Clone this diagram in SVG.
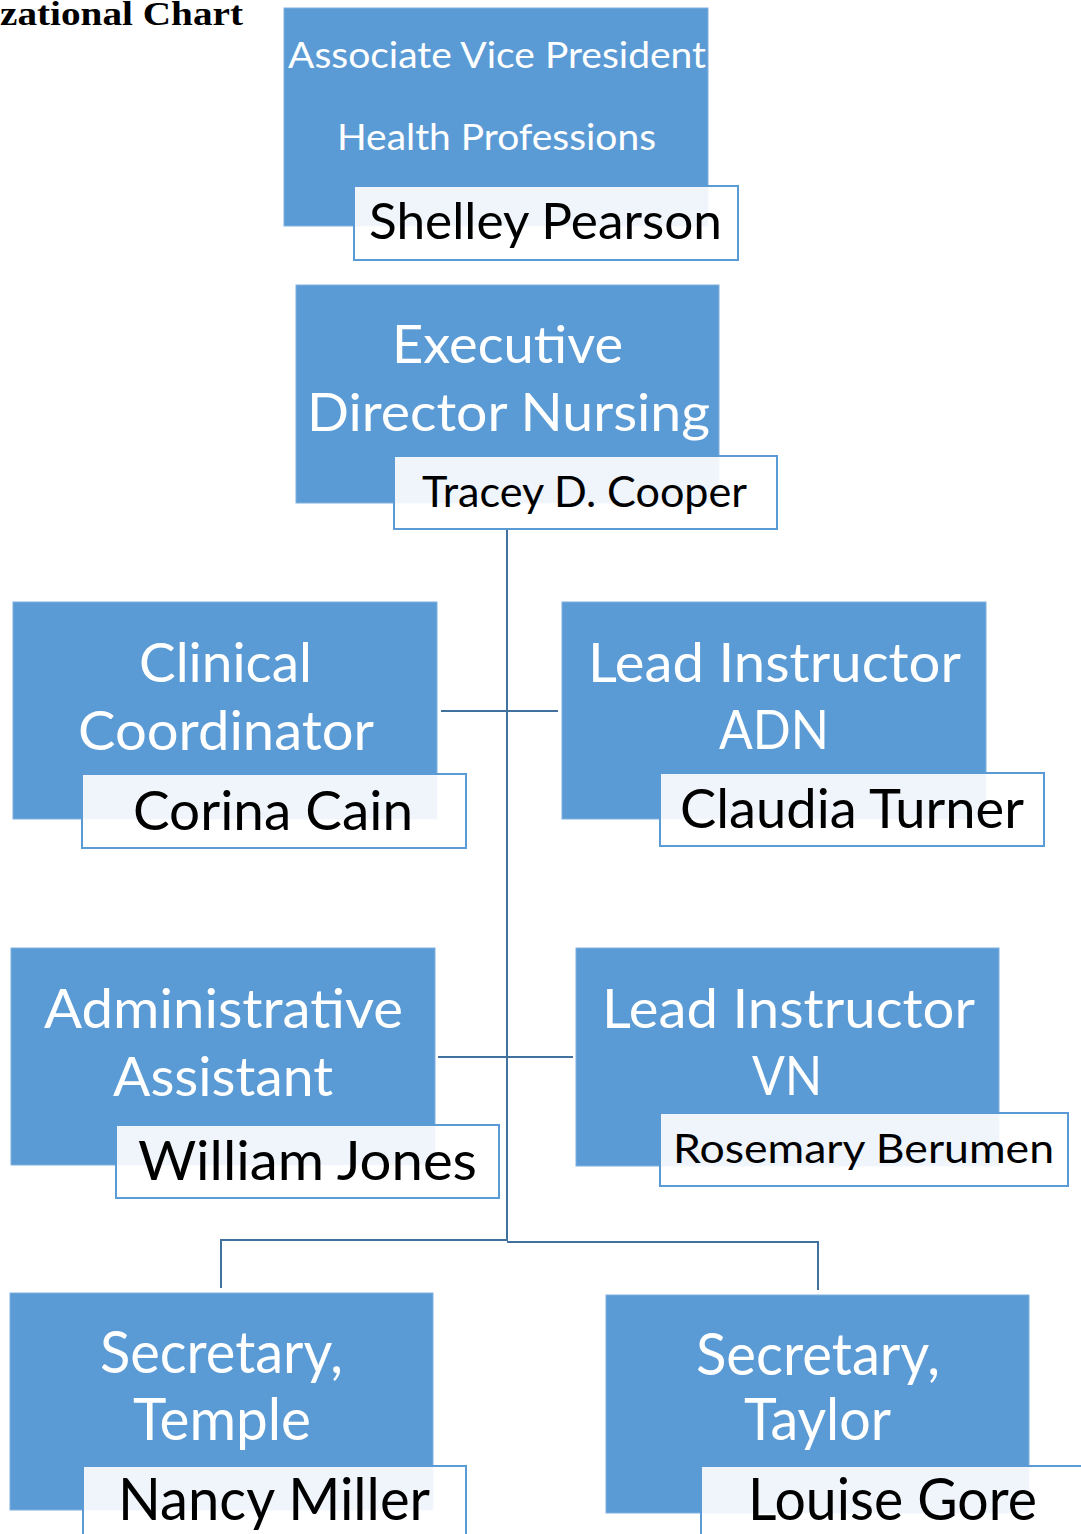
<svg xmlns="http://www.w3.org/2000/svg" width="1081" height="1534" viewBox="0 0 1081 1534">
<style>
.box{fill:#5b9bd5;stroke:#7fb0df;stroke-width:1}
.name{fill:#ffffff;fill-opacity:0.9;stroke:#5b9bd5;stroke-width:2}
.t{font-family:Lato,"Open Sans","Liberation Sans",sans-serif;fill:#ffffff;text-anchor:start}
.n{font-family:Lato,"Open Sans","Liberation Sans",sans-serif;fill:#000000;text-anchor:start}
.c{fill:none;stroke:#41719c;stroke-width:2}
.title{font-family:"Liberation Serif","DejaVu Serif",serif;font-weight:bold;fill:#000}
</style>
<rect width="1081" height="1534" fill="#ffffff"/>
<text class="title" x="0" y="25" font-size="33" textLength="243" lengthAdjust="spacingAndGlyphs">zational Chart</text>

<g id="connectors">
  <path class="c" d="M507,529 V1241"/>
  <path class="c" d="M441,711 H558"/>
  <path class="c" d="M438,1057 H573"/>
  <path class="c" d="M221,1288 V1240 H507"/>
  <path class="c" d="M507,1242 H818 V1290"/>
</g>

<g id="avp">
  <rect class="box" x="284" y="8" width="424" height="218"/>
  <text class="t" x="288" y="68" font-size="36" textLength="418" lengthAdjust="spacingAndGlyphs">Associate Vice President</text>
  <text class="t" x="337" y="150" font-size="36" textLength="319" lengthAdjust="spacingAndGlyphs">Health Professions</text>
  <rect class="name" x="354" y="186" width="384" height="74"/>
  <text class="n" x="369" y="239" font-size="51" textLength="353" lengthAdjust="spacingAndGlyphs">Shelley Pearson</text>
</g>

<g id="exec">
  <rect class="box" x="296" y="285" width="423" height="218"/>
  <text class="t" x="392" y="363" font-size="53" textLength="231" lengthAdjust="spacingAndGlyphs">Executive</text>
  <text class="t" x="307" y="431" font-size="53" textLength="403" lengthAdjust="spacingAndGlyphs">Director Nursing</text>
  <rect class="name" x="394" y="456" width="383" height="73"/>
  <text class="n" x="422" y="507" font-size="43" textLength="325" lengthAdjust="spacingAndGlyphs">Tracey D. Cooper</text>
</g>

<g id="clinical">
  <rect class="box" x="13" y="602" width="424" height="217"/>
  <text class="t" x="139" y="682" font-size="54" textLength="173" lengthAdjust="spacingAndGlyphs">Clinical</text>
  <text class="t" x="78" y="750" font-size="54" textLength="296" lengthAdjust="spacingAndGlyphs">Coordinator</text>
  <rect class="name" x="82" y="774" width="384" height="74"/>
  <text class="n" x="133" y="830" font-size="54" textLength="280" lengthAdjust="spacingAndGlyphs">Corina Cain</text>
</g>

<g id="adn">
  <rect class="box" x="562" y="602" width="424" height="217"/>
  <text class="t" x="588" y="682" font-size="54" textLength="373" lengthAdjust="spacingAndGlyphs">Lead Instructor</text>
  <text class="t" x="719" y="749" font-size="54" textLength="110" lengthAdjust="spacingAndGlyphs">ADN</text>
  <rect class="name" x="660" y="773" width="384" height="73"/>
  <text class="n" x="680" y="828" font-size="54" textLength="344" lengthAdjust="spacingAndGlyphs">Claudia Turner</text>
</g>

<g id="admin">
  <rect class="box" x="11" y="948" width="424" height="217"/>
  <text class="t" x="44" y="1028" font-size="54" textLength="359" lengthAdjust="spacingAndGlyphs">Administrative</text>
  <text class="t" x="113" y="1096" font-size="54" textLength="220" lengthAdjust="spacingAndGlyphs">Assistant</text>
  <rect class="name" x="116" y="1125" width="383" height="73"/>
  <text class="n" x="138" y="1180" font-size="54" textLength="339" lengthAdjust="spacingAndGlyphs">William Jones</text>
</g>

<g id="vn">
  <rect class="box" x="576" y="948" width="423" height="218"/>
  <text class="t" x="602" y="1028" font-size="54" textLength="373" lengthAdjust="spacingAndGlyphs">Lead Instructor</text>
  <text class="t" x="752" y="1095" font-size="54" textLength="70" lengthAdjust="spacingAndGlyphs">VN</text>
  <rect class="name" x="660" y="1113" width="408" height="73"/>
  <text class="n" x="673" y="1163" font-size="40" textLength="381" lengthAdjust="spacingAndGlyphs">Rosemary Berumen</text>
</g>

<g id="temple">
  <rect class="box" x="10" y="1293" width="423" height="217"/>
  <text class="t" x="100" y="1373" font-size="58" textLength="243" lengthAdjust="spacingAndGlyphs">Secretary,</text>
  <text class="t" x="133" y="1440" font-size="58" textLength="178" lengthAdjust="spacingAndGlyphs">Temple</text>
  <rect class="name" x="83" y="1466" width="383" height="80"/>
  <text class="n" x="118" y="1520" font-size="58" textLength="312" lengthAdjust="spacingAndGlyphs">Nancy Miller</text>
</g>

<g id="taylor">
  <rect class="box" x="606" y="1295" width="423" height="218"/>
  <text class="t" x="696" y="1375" font-size="58" textLength="244" lengthAdjust="spacingAndGlyphs">Secretary,</text>
  <text class="t" x="744" y="1440" font-size="58" textLength="147" lengthAdjust="spacingAndGlyphs">Taylor</text>
  <rect class="name" x="701" y="1466" width="400" height="80"/>
  <text class="n" x="748" y="1520" font-size="58" textLength="289" lengthAdjust="spacingAndGlyphs">Louise Gore</text>
</g>
</svg>
